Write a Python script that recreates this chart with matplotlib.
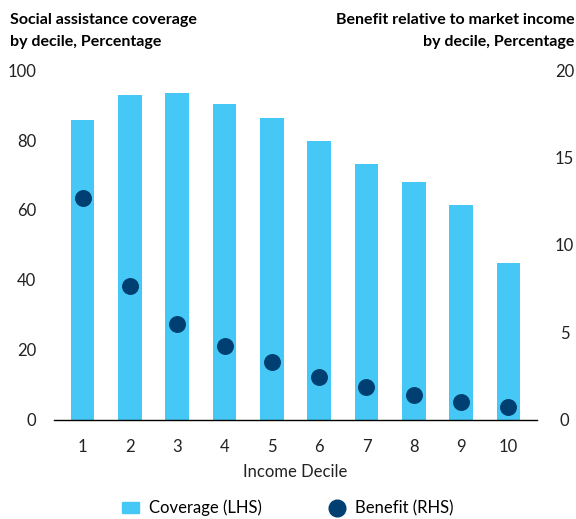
import numpy as np
import matplotlib
matplotlib.use('Agg')
import matplotlib.pyplot as plt
from matplotlib.lines import Line2D
from matplotlib.patches import Patch

plt.rcParams['font.family'] = ['Lato', 'DejaVu Sans']

deciles = ['1', '2', '3', '4', '5', '6', '7', '8', '9', '10']
coverage = [85.7, 92.9, 93.4, 90.3, 86.3, 79.7, 73.1, 68.0, 61.4, 44.9]
benefit = [12.7, 7.65, 5.5, 4.2, 3.3, 2.45, 1.9, 1.45, 1.05, 0.75]

bar_col = '#45C8F5'
dot_col = '#003F72'

fig = plt.figure(figsize=(5.76, 5.19), dpi=100)
ax = fig.add_axes([0.094, 0.191, 0.838, 0.674])
ax2 = ax.twinx()

x = np.arange(1, len(deciles) + 1)
ax.bar(x, coverage, width=0.5, color=bar_col, zorder=2)
ax2.scatter(x, benefit, s=125, color=dot_col, zorder=3)

ax.set_xlim(0.4, 10.6)
ax.set_ylim(0, 100)
ax2.set_ylim(0, 20)
ax.set_yticks([0, 20, 40, 60, 80, 100])
ax2.set_yticks([0, 5, 10, 15, 20])
ax.set_xticks(x)
ax.set_xticklabels(deciles)

for a in (ax, ax2):
    for s in ['top', 'left', 'right', 'bottom']:
        a.spines[s].set_visible(False)
    a.tick_params(length=0, labelsize=12, colors='#222222')
ax.spines['bottom'].set_visible(True)
ax.spines['bottom'].set_linewidth(1.0)
ax.tick_params(axis='x', pad=14)
ax.tick_params(axis='y', pad=13)
ax2.tick_params(axis='y', pad=20)
for t in ax2.get_yticklabels():
    t.set_horizontalalignment('center')

ax.set_xlabel('Income Decile', fontsize=12, color='#222222', labelpad=6)

fig.text(0.017, 0.975, 'Social assistance coverage\nby decile, Percentage',
         fontsize=11.5, fontweight='bold', va='top', ha='left', linespacing=1.75)
fig.text(0.998, 0.975, 'Benefit relative to market income\nby decile, Percentage',
         fontsize=11.5, fontweight='bold', va='top', ha='right', linespacing=1.75,
         multialignment='right')

handles = [Patch(color=bar_col, label='Coverage (LHS)'),
           Line2D([], [], marker='o', ls='', markersize=12, color=dot_col, label='Benefit (RHS)')]
fig.legend(handles=handles, loc='lower center', bbox_to_anchor=(0.5, -0.024), ncol=2,
           frameon=False, fontsize=12, columnspacing=4.0, handlelength=1.0, handletextpad=0.6)

fig.savefig('out.png', dpi=100)
